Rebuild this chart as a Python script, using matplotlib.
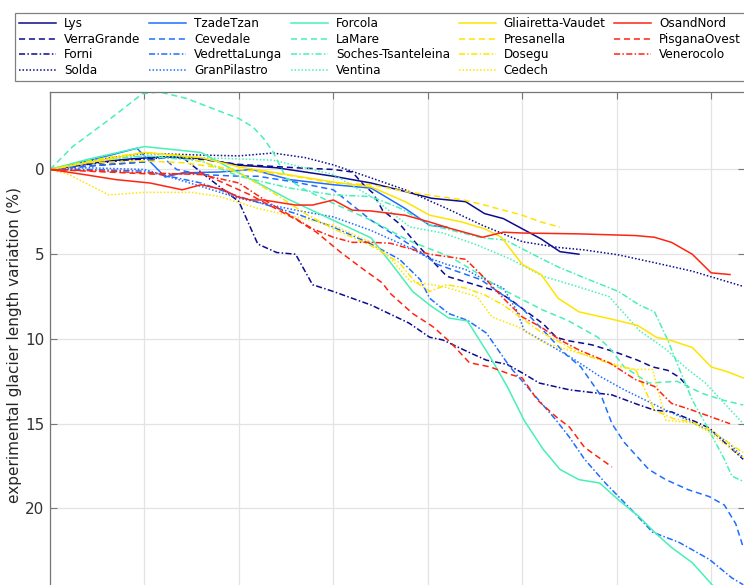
import matplotlib
matplotlib.use("Agg")
import matplotlib.pyplot as plt

# ---- data (x: years from start, y: length variation %) ----
names = ["Lys", "VerraGrande", "Forni", "Solda",
         "TzadeTzan", "Cevedale", "VedrettaLunga", "GranPilastro",
         "Forcola", "LaMare", "Soches-Tsanteleina", "Ventina",
         "Gliairetta-Vaudet", "Presanella", "Dosegu", "Cedech",
         "OsandNord", "PisganaOvest", "Venerocolo"]

lys_x = [0, 2, 4, 6, 8, 10, 12, 15, 17, 18.8, 20.2, 22, 23, 24, 25, 26, 27, 28]
lys_y = [0, -0.35, -0.6, -0.75, -0.65, -0.25, -0.1, 0.4, 0.8, 1.3, 1.7, 1.9, 2.6, 2.9, 3.5, 4.1, 4.85, 5.0]

verra_x = [0, 2, 5, 6, 8, 10, 13, 15, 16, 16.6, 17.1, 17.6, 18.5, 19.1, 19.7, 21, 22.2, 23.7, 24.4, 25,
           26.1, 26.8, 27.4, 28.2, 28.7, 30, 31.1, 31.9, 32.7, 33.3, 33.8]
verra_y = [0, -0.2, -0.45, -0.75, -0.6, -0.3, -0.1, 0, 0.15, 0.9, 1.4, 2.4, 3.2, 4.0, 4.75, 6.3, 6.7, 7.2, 7.7, 8.2,
           9.1, 9.9, 10.1, 10.25, 10.35, 10.8, 11.25, 11.65, 11.85, 12.25, 12.85]

forni_x = [0, 2, 4, 7, 7.3, 8.5, 10, 11, 12, 13, 13.9, 15, 16, 17, 19, 20.1, 20.8, 22.2, 23.1, 24.2, 25,
           25.9, 27.5, 29.75, 31.2, 32, 32.9, 34, 34.9, 35.7, 36.7]
forni_y = [0, -0.3, -0.55, -0.75, -0.45, 0.6, 1.9, 4.4, 4.9, 5.0, 6.8, 7.2, 7.6, 8.0, 9.06, 9.9, 10.06, 10.8,
           11.25, 11.5, 12.0, 12.6, 13.0, 13.3, 13.9, 14.2, 14.3, 14.8, 15.25, 16.1, 17.1]

solda_x = [0, 2, 5, 8, 10, 11.8, 13.5, 15, 17, 18.8, 21, 22.9, 25, 26.9, 28.3, 30.1, 32, 34, 36.7]
solda_y = [0, -0.5, -0.95, -0.85, -0.8, -0.97, -0.7, -0.27, 0.5, 1.2, 2.3, 3.3, 4.26, 4.6, 4.75, 5.04, 5.5, 6.0, 6.9]

tzade_x = [0, 2, 4.6, 6.1, 7, 9, 10.7, 12.7, 15, 17, 18.8, 20.1, 21]
tzade_y = [0, -0.5, -1.25, 0.45, 0.2, 0.15, 0, 0.6, 0.9, 1.1, 2.3, 3.3, 3.4]

ceved_x = [0, 2, 5, 6, 6.7, 8, 10, 11, 13, 15, 17, 18, 19, 20.5, 22.8, 25, 26.2, 27.3, 28.1, 29.2, 29.75,
           30.4, 31.7, 32.6, 33.8, 34.9, 35.7, 36.3, 36.7]
ceved_y = [0, -0.2, -0.45, -0.7, 0, 0.3, 0.4, 0.4, 0.75, 1.2, 3.0, 3.7, 4.4, 5.6, 6.5, 8.2, 9.6, 10.9, 11.65,
           13.4, 15.0, 16.1, 17.7, 18.3, 18.9, 19.3, 19.8, 20.9, 22.3]

vedr_x = [0, 2, 5, 8, 10, 13, 15, 17, 18.5, 19.6, 20.1, 21.1, 22.1, 23.1, 24.35, 25.4, 26.8, 27.5, 28.3,
          29.4, 30.8, 31.9, 33.3, 34.9, 36.1, 36.7]
vedr_y = [0, 0, 0.1, 0.8, 1.6, 2.6, 3.4, 4.4, 5.3, 6.5, 7.6, 8.5, 8.9, 9.65, 11.65, 13.0, 14.8, 15.8, 17.1,
          18.5, 20.1, 21.4, 22.0, 23.0, 24.1, 24.5]

granp_x = [0, 2, 5, 8, 10, 13, 15, 17, 19, 20, 21, 22, 23, 24, 24.7, 25.1, 26.2, 27.6, 29.1, 30.4, 31.5,
           32.6, 33.8, 34.9, 35.9, 36.7]
granp_y = [0, -0.1, 0, 1.0, 1.7, 2.4, 2.8, 3.6, 4.6, 5.2, 5.6, 5.9, 6.5, 7.0, 8.3, 9.5, 10.2, 11.1, 12.2,
           13.0, 13.6, 14.2, 14.8, 15.4, 16.1, 17.0]

forcola_x = [0, 2, 5, 8, 10, 12.7, 15, 17, 18.1, 19.2, 20.1, 21.1, 22.1, 23.3, 24.2, 25.1, 26.1, 27, 28,
             29.1, 30.1, 31.2, 32, 32.9, 34, 35.05, 36]
forcola_y = [0, -0.6, -1.35, -1.0, 0.2, 1.8, 3.0, 4.04, 5.6, 7.2, 8.0, 8.76, 8.94, 11.06, 12.8, 14.8, 16.5,
             17.7, 18.3, 18.5, 19.5, 20.5, 21.4, 22.3, 23.2, 24.5, 25.4]

lamare_x = [0, 1.2, 3.2, 4.9, 5.8, 7.2, 8.6, 10, 10.75, 11.3, 11.8, 12.5, 13.5, 15, 17, 19, 21.2, 22.6,
            23.7, 24.7, 26.1, 27.4, 29, 29.6, 30.4, 31.7, 33.2, 34.5, 35.6, 36.7]
lamare_y = [0, -1.35, -3.0, -4.47, -4.57, -4.2, -3.6, -3.0, -2.5, -1.84, -1.05, 0.5, 1.2, 2.0, 3.0, 4.2,
            5.16, 6.1, 6.93, 7.5, 8.3, 8.9, 9.9, 10.5, 11.65, 12.6, 12.5, 13.2, 13.6, 13.9]

soches_x = [0, 2, 5, 8, 10, 12.7, 15, 17, 18.5, 20.1, 22.9, 24.1, 25.9, 26.9, 28.3, 30.1, 31.2, 32, 32.7,
            33.4, 34, 34.8, 35.7, 36.1, 36.7]
soches_y = [0, -0.5, -0.8, -0.5, 0.4, 1.1, 1.5, 1.6, 2.27, 3.27, 4.04, 4.16, 5.2, 5.75, 6.4, 7.2, 8.0, 8.4,
            10.06, 12.0, 13.6, 15.2, 17.1, 18.1, 18.4]

ventina_x = [0, 3, 5, 8, 11.8, 15, 17, 19.06, 20.8, 22.6, 24.4, 26.1, 27.9, 29.6, 31.2, 32.6, 33.6, 34.7,
             35.7, 36.7]
ventina_y = [0, -0.6, -0.8, -0.7, -0.55, 0.3, 1.6, 3.4, 3.75, 4.45, 5.3, 6.3, 6.9, 7.5, 9.5, 10.6, 11.65,
             12.6, 13.8, 15.0]

gliair_x = [0, 3, 5, 8, 10, 12.7, 15, 17, 18.8, 20.1, 21.8, 23, 23.9, 25, 26, 26.9, 28, 30, 31.1, 32.1,
            32.9, 34, 35, 35.9, 36.7]
gliair_y = [0, -0.6, -1.0, -0.7, -0.15, 0.33, 0.74, 1.03, 1.9, 2.7, 3.1, 3.5, 4.0, 5.6, 6.2, 7.6, 8.4, 8.9,
            9.2, 9.9, 10.1, 10.5, 11.65, 11.95, 12.3]

presan_x = [0, 2, 5, 7, 9, 10, 12.4, 15, 17, 18.8, 20.6, 21.9, 23, 24, 25, 26, 27]
presan_y = [0, -0.4, -0.5, -0.4, -0.1, 0, 0.3, 0.8, 0.9, 1.3, 1.6, 1.8, 2.1, 2.4, 2.7, 3.1, 3.4]

dosegu_x = [0, 3, 5, 7, 10, 12, 13.5, 15, 17, 18.5, 19.3, 20.1, 21, 22, 23, 24, 25, 26, 27, 28, 29, 30,
            31, 32, 33, 34, 35, 36, 36.7]
dosegu_y = [0, -0.7, -1.0, -0.8, 0.2, 1.5, 2.6, 3.5, 4.5, 5.5, 6.6, 7.2, 6.8, 7.0, 7.4, 8.0, 8.8, 9.6,
            10.2, 10.8, 11.2, 11.6, 11.8, 14.2, 14.7, 14.9, 15.4, 16.2, 16.7]

cedech_x = [0, 1, 3.1, 5, 7.5, 9, 11, 13, 15, 17, 18, 19.06, 20.8, 22.6, 23.4, 24.8, 26.1, 27.9, 29.6,
            30.8, 31.9, 32.6, 34, 34.9, 36.7]
cedech_y = [0, 0.3, 1.5, 1.35, 1.35, 1.6, 2.3, 2.8, 3.3, 4.3, 5.2, 6.6, 6.9, 7.5, 8.7, 9.3, 10.2, 10.8,
            11.4, 11.8, 11.8, 14.8, 14.95, 15.5, 17.0]

osand_x = [0, 1.8, 3.5, 5.3, 7, 8, 9.2, 9.9, 10.6, 11.3, 13, 13.9, 15, 16, 17, 18.8, 20.1, 21.1, 22.9, 24,
           25, 28, 31, 32, 32.9, 34, 35, 36]
osand_y = [0, 0.3, 0.6, 0.8, 1.2, 0.9, 1.2, 1.6, 1.8, 1.8, 2.1, 2.1, 1.8, 2.4, 2.45, 2.7, 3.1, 3.45, 4.0,
           3.7, 3.75, 3.8, 3.9, 4.0, 4.3, 5.0, 6.1, 6.2]

pisg_x = [0, 3, 6, 8, 10.6, 13.1, 14.1, 15.4, 16.6, 17.6, 18, 19.2, 20.3, 21.2, 22.2, 23.3, 24.4, 25, 25.8,
          26.8, 27.5, 28.3, 29.75]
pisg_y = [0, 0.15, 0.3, 0.2, 1.5, 3.0, 3.7, 4.9, 5.9, 6.7, 7.3, 8.5, 9.3, 10.2, 11.4, 11.65, 12.1, 12.3,
          13.6, 14.6, 15.2, 16.4, 17.55]

vener_x = [0, 3, 5, 8, 10, 11.5, 12.7, 13.9, 15, 16, 17, 18, 18.8, 20.1, 22, 23, 24, 25, 26, 27, 28, 29.6,
           31, 32, 32.9, 34, 35, 36]
vener_y = [0, 0.1, 0.2, 0.3, 0.8, 1.9, 2.7, 3.5, 4.0, 4.3, 4.3, 4.35, 4.6, 5.0, 5.3, 6.4, 7.6, 8.7, 9.3,
           10.06, 10.65, 11.4, 12.4, 12.8, 13.8, 14.2, 14.6, 15.0]

series_x = [lys_x, verra_x, forni_x, solda_x, tzade_x, ceved_x, vedr_x, granp_x,
            forcola_x, lamare_x, soches_x, ventina_x, gliair_x, presan_x, dosegu_x, cedech_x,
            osand_x, pisg_x, vener_x]
series_y = [lys_y, verra_y, forni_y, solda_y, tzade_y, ceved_y, vedr_y, granp_y,
            forcola_y, lamare_y, soches_y, ventina_y, gliair_y, presan_y, dosegu_y, cedech_y,
            osand_y, pisg_y, vener_y]

yticks = [0, 5, 10, 15, 20]
ylabel = "experimental glacier length variation (%)"

# ---- styles ----
group_colors = ["#0c0c8e", "#1e6eff", "#48f0b8", "#ffe400", "#ff2410"]
styles = ["-", (0, (4, 2.5)), (0, (4, 1.5, 1, 1.5)), (0, (1, 1.3))]

W, H = 744, 585
fig = plt.figure(figsize=(W / 100, H / 100), dpi=100)
left_px, top_px = 50, 92.0
x_max = 36.8
px_per_x = 18.89
y_top, y_bot = -4.57, 25.0
px_per_y = 16.95
ax_w = x_max * px_per_x
ax_h = (y_bot - y_top) * px_per_y
ax = fig.add_axes([left_px / W, (H - top_px - ax_h) / H, ax_w / W, ax_h / H])

lines = []
for i, (xs, ys) in enumerate(zip(series_x, series_y)):
    col = group_colors[i // 4] if i < 16 else group_colors[4]
    ls = styles[i % 4] if i < 16 else styles[(i - 16) % 4]
    ln, = ax.plot(xs, ys, color=col, linestyle=ls, linewidth=1.1, label=names[i])
    lines.append(ln)

ax.set_xlim(0, x_max)
ax.set_ylim(y_bot, y_top)
ax.set_xticks([0, 5, 10, 15, 20, 25, 30, 35])
ax.set_xticklabels([])
ax.set_yticks(yticks)
ax.set_yticklabels([str(t) for t in yticks])
ax.grid(True, color="#e3e3e3", linewidth=0.9)
ax.set_axisbelow(True)
ax.tick_params(axis="both", direction="in", length=5, width=0.8, color="#777777",
               top=True, right=True, labelsize=11, labelcolor="#333333", pad=4)
for s in ax.spines.values():
    s.set_color("#777777")
    s.set_linewidth(0.9)

ax.set_ylabel(ylabel, fontsize=11, color="#262626")
ax.yaxis.set_label_coords(-0.040, 0.495)

leg = fig.legend(handles=lines, labels=names, ncol=5, loc="upper left",
                 bbox_to_anchor=(15 / W, 1 - 13.3 / H), fontsize=8.64,
                 frameon=True, fancybox=False, edgecolor="#808080", framealpha=1,
                 handlelength=3.1, handletextpad=0.67, columnspacing=0.7,
                 labelspacing=0.22, borderpad=0.32, borderaxespad=0)
leg.get_frame().set_linewidth(0.9)

fig.savefig("out.png", dpi=100)
